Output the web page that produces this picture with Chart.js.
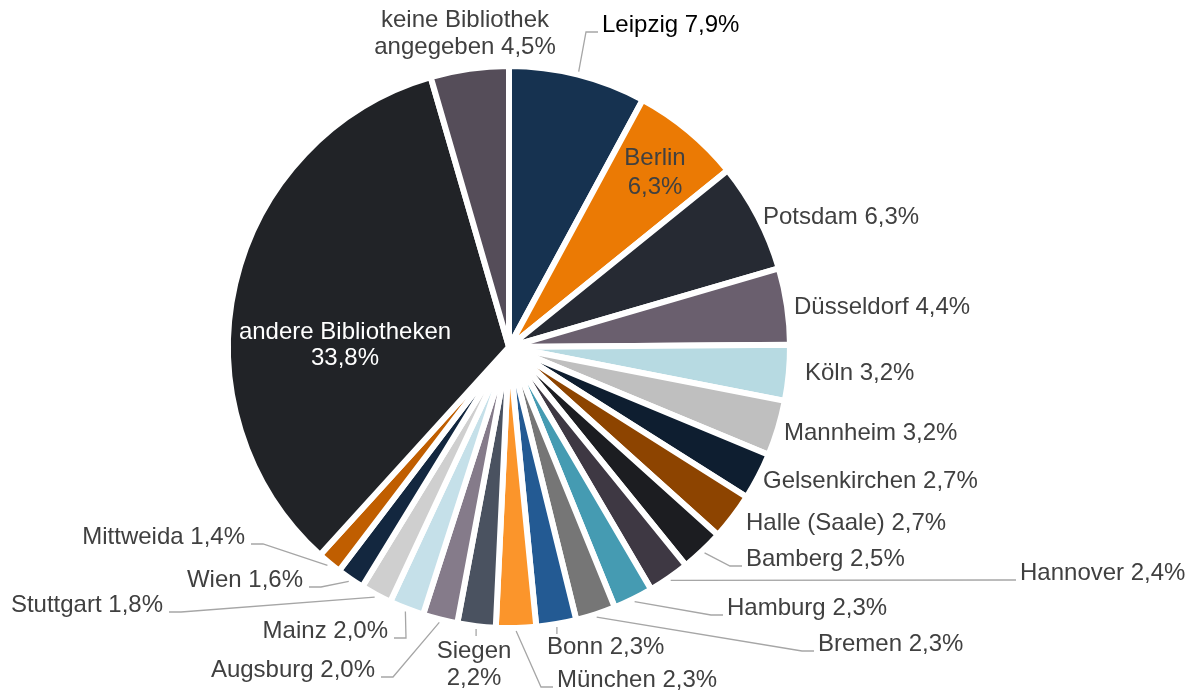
<!DOCTYPE html>
<html>
<head>
<meta charset="utf-8">
<script src="https://cdn.jsdelivr.net/npm/chart.js@4"></script>
<style>
  body { margin: 0; background: #fff; }
  #wrap { width: 1186px; height: 693px; }
</style>
</head>
<body>
<div id="wrap"><canvas id="pieChart" width="1186" height="693"></canvas></div>
<script>
// library names, share in percent (clockwise from 12 o'clock)
const libraries = ['Leipzig', 'Berlin', 'Potsdam', 'Düsseldorf', 'Köln', 'Mannheim',
    'Gelsenkirchen', 'Halle (Saale)', 'Bamberg', 'Hannover', 'Hamburg', 'Bremen',
    'Bonn', 'München', 'Siegen', 'Augsburg', 'Mainz', 'Stuttgart', 'Wien', 'Mittweida',
    'andere Bibliotheken', 'keine Bibliothek angegeben'];
const shares = [7.9, 6.3, 6.3, 4.4, 3.2, 3.2, 2.7, 2.7, 2.5, 2.4, 2.3, 2.3,
    2.3, 2.3, 2.2, 2.0, 2.0, 1.8, 1.6, 1.4, 33.8, 4.5];

const sliceColors = ['#163250', '#eb7a04', '#262a33', '#6a5f6e', '#b7dae2', '#bfbfbf',
    '#0e1e30', '#8d4400', '#1c1d21', '#3e3843', '#459bb2', '#767676',
    '#235a93', '#fb952b', '#4a5260', '#857b8a', '#c5e0e9', '#cfcfcf', '#13273f', '#c05e00',
    '#212327', '#554d59'];

// where each label sits (x = anchor for align, y = middle of first line)
// leader: 'side' = elbow line to the label's edge, 'top' = short tick above it
const labelLayout = [
    {x: 602, y: 25, align: 'left', leader: 'side', color: '#000'},
    {x: 655, y: 158, align: 'center', wrap: 1, lh: 29},
    {x: 763, y: 217, align: 'left'},
    {x: 794, y: 307, align: 'left'},
    {x: 805, y: 373, align: 'left'},
    {x: 784, y: 433, align: 'left'},
    {x: 763, y: 481, align: 'left'},
    {x: 746, y: 523, align: 'left'},
    {x: 746, y: 559, align: 'left', leader: 'side'},
    {x: 1020, y: 573, align: 'left', leader: 'side'},
    {x: 727, y: 608, align: 'left', leader: 'side'},
    {x: 818, y: 644, align: 'left', leader: 'side'},
    {x: 547, y: 647, align: 'left', leader: 'top'},
    {x: 557, y: 680, align: 'left', leader: 'side'},
    {x: 474, y: 651, align: 'center', wrap: 1, leader: 'top'},
    {x: 375, y: 670, align: 'right', leader: 'side'},
    {x: 388, y: 631, align: 'right', leader: 'side'},
    {x: 163, y: 605, align: 'right', leader: 'side'},
    {x: 303, y: 580, align: 'right', leader: 'side'},
    {x: 245, y: 537, align: 'right', leader: 'side'},
    {x: 345, y: 332, align: 'center', wrap: 2, lh: 26, color: '#fff'},
    {x: 465, y: 20, align: 'center', wrap: 2}
];

const FONT = '24px "Liberation Sans", Arial, sans-serif';

function labelText(i){
    return libraries[i] + ' ' + shares[i].toFixed(1).replace('.', ',') + '%';
}

const outsideLabels = {
    id: 'outsideLabels',
    afterDraw(chart){
        const ctx = chart.ctx;
        const arcs = chart.getDatasetMeta(0).data;
        ctx.save();
        ctx.font = FONT;
        ctx.textBaseline = 'middle';
        arcs.forEach((arc, i) => {
            const lay = labelLayout[i];
            const words = labelText(i).split(' ');
            const lines = lay.wrap ? [words.slice(0, lay.wrap).join(' '), words.slice(lay.wrap).join(' ')] : [words.join(' ')];
            const lh = lay.lh || 27;
            const w = ctx.measureText(lines[0]).width;

            if(lay.leader){
                const mid = (arc.startAngle + arc.endAngle) / 2;
                const r = arc.outerRadius + 3;
                const sx = arc.x + Math.cos(mid) * r;
                const sy = arc.y + Math.sin(mid) * r;
                ctx.strokeStyle = '#a6a6a6';
                ctx.lineWidth = 1.3;
                ctx.beginPath();
                ctx.moveTo(sx, sy);
                if(lay.leader === 'top'){
                    ctx.lineTo(sx, sy + 7);
                }else{
                    const ly = lay.y + 7;
                    let edge = lay.x;
                    if(lay.align === 'right'){
                        ctx.lineTo(edge + 18, ly);
                        ctx.lineTo(edge + 6, ly);
                    }else{
                        ctx.lineTo(edge - 16, ly);
                        ctx.lineTo(edge - 4, ly);
                    }
                }
                ctx.stroke();
            }

            ctx.fillStyle = lay.color || '#404040';
            ctx.textAlign = lay.align;
            lines.forEach((t, k) => ctx.fillText(t, lay.x, lay.y + k * lh));
        });
        ctx.restore();
    }
};

new Chart(document.getElementById('pieChart'), {
    type: 'pie',
    data: {
        labels: libraries,
        datasets: [{
            data: shares,
            backgroundColor: sliceColors,
            borderColor: '#ffffff',
            borderWidth: 6
        }]
    },
    options: {
        responsive: false,
        animation: false,
        radius: 281,
        layout: {padding: {left: 60, right: 228, top: 10, bottom: 9}},
        plugins: {
            legend: {display: false},
            tooltip: {enabled: false}
        }
    },
    plugins: [outsideLabels]
});
</script>
</body>
</html>
